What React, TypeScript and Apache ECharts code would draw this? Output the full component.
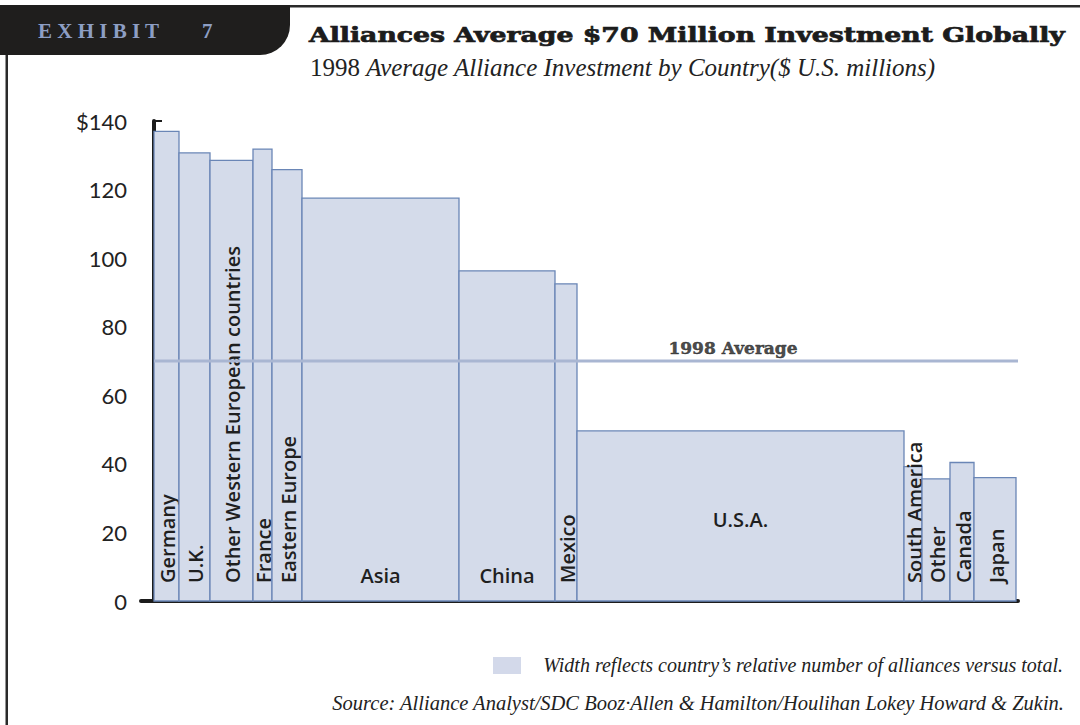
import React, { useEffect, useRef } from "react";
import * as echarts from "echarts";

const categories = [
  "Germany",
  "U.K.",
  "Other Western European countries",
  "France",
  "Eastern Europe",
  "Asia",
  "China",
  "Mexico",
  "U.S.A.",
  "South America",
  "Other",
  "Canada",
  "Japan",
];
// average alliance investment, $ U.S. millions
const investment = [137, 130.7, 128.5, 131.8, 125.8, 117.5, 96.3, 92.5, 49.6, 39.2, 35.6, 40.4, 36.0];
// relative number of alliances (bar width)
const allianceCount = [25, 31, 43, 19, 30, 157, 96, 22, 327, 18, 28, 24, 42];
const average1998 = 70;
const yTicks = [0, 20, 40, 60, 80, 100, 120, 140];

const TITLE = "Alliances Average $70 Million Investment Globally";
const SUBTITLE_YEAR = "1998";
const SUBTITLE_REST = "Average Alliance Investment by Country($ U.S. millions)";
const NOTE = "Width reflects country\u2019s relative number of alliances versus total.";
const SOURCE = "Source: Alliance Analyst/SDC Booz\u00B7Allen & Hamilton/Houlihan Lokey Howard & Zukin.";

function measure(text: string, font: string): number {
  const c = document.createElement("canvas").getContext("2d");
  if (!c) return 0;
  c.font = font;
  return c.measureText(text).width;
}

export default function App() {
  const ref = useRef<HTMLDivElement>(null);

  useEffect(() => {
    if (!ref.current) return;
    const chart = echarts.init(ref.current, null, { renderer: "svg" });

    let acc = 0;
    const barData = categories.map((c, i) => {
      const start = acc;
      acc += allianceCount[i];
      return [start, investment[i], allianceCount[i], i];
    });
    const total = acc;

    const labelFont = '600 20px "Open Sans", "Noto Sans", sans-serif';
    const titleFont = "bold 20px 'DejaVu Serif', serif";
    const tw = measure(TITLE, titleFont);
    const titleScale = tw > 0 ? 756 / tw : 1.2;

    const option: any = {
      animation: false,
      backgroundColor: "#ffffff",
      grid: { left: 141, top: 121, width: 877, height: 480 },
      xAxis: {
        type: "value",
        min: -13,
        max: total + 2,
        axisLine: { show: true, onZero: false, lineStyle: { color: "#1c1c1c", width: 4 } },
        axisTick: { show: false },
        axisLabel: { show: false },
        splitLine: { show: false },
      },
      yAxis: {
        type: "value",
        min: yTicks[0],
        max: yTicks[yTicks.length - 1],
        interval: 20,
        axisLine: { show: true, lineStyle: { color: "#1c1c1c", width: 4 } },
        axisTick: { show: true, inside: true, length: 8, lineStyle: { color: "#1c1c1c", width: 2 } },
        axisLabel: {
          margin: 14,
          color: "#222222",
          fontFamily: "Lato, 'Open Sans', sans-serif",
          fontSize: 22,
          formatter: (v: number) => (v === 140 ? "$" + v : String(v)),
        },
        splitLine: { show: false },
      },
      series: [
        {
          type: "custom",
          data: barData,
          encode: { x: 0, y: 1 },
          z: 2,
          renderItem: (params: any, api: any) => {
            const start = api.value(0);
            const v = api.value(1);
            const w = api.value(2);
            const idx = api.value(3);
            const p0 = api.coord([start, v]);
            const p1 = api.coord([start + w, 0]);
            const x = p0[0];
            const y = p0[1];
            const width = p1[0] - p0[0];
            const height = p1[1] - p0[1];
            const cx = x + width / 2;
            const name = categories[idx];
            const children: any[] = [
              {
                type: "rect",
                shape: { x, y, width, height },
                style: { fill: "#d4dbea", stroke: "#6a86b6", lineWidth: 1.3 },
              },
            ];
            if (width < 60) {
              children.push({
                type: "text",
                x: cx + 1,
                y: p1[1] - 18,
                rotation: Math.PI / 2,
                style: {
                  text: name,
                  fill: "#1f1f1f",
                  font: labelFont,
                  align: "left",
                  verticalAlign: "middle",
                },
              });
            } else {
              const ly = v < 60 ? (y + p1[1]) / 2 + 4 : p1[1] - 26;
              children.push({
                type: "text",
                x: cx,
                y: ly,
                style: {
                  text: name,
                  fill: "#1f1f1f",
                  font: labelFont,
                  align: "center",
                  verticalAlign: "middle",
                },
              });
            }
            return { type: "group", children };
          },
        },
        {
          type: "line",
          data: [
            [0, average1998],
            [total + 2, average1998],
          ],
          showSymbol: false,
          symbol: "none",
          lineStyle: { color: "#a9b6d2", width: 3 },
          z: 5,
        },
        {
          type: "scatter",
          data: [[579, average1998]],
          symbolSize: 0,
          z: 6,
          label: {
            show: true,
            position: "top",
            distance: 5,
            formatter: "1998 Average",
            color: "#1c1c1c",
            fontFamily: "'DejaVu Serif', serif",
            fontWeight: "bold",
            fontSize: 17,
            textBorderColor: "#1c1c1c",
            textBorderWidth: 0.5,
          },
        },
      ],
      graphic: [
        // top border line
        { type: "rect", shape: { x: 0, y: 5, width: 1080, height: 2.5 }, style: { fill: "#2a2a2a" } },
        // left border line
        { type: "rect", shape: { x: 5.5, y: 40, width: 2.5, height: 700 }, style: { fill: "#2a2a2a" } },
        // header block
        {
          type: "rect",
          shape: { x: 0, y: 5, width: 290, height: 50, r: [0, 0, 30, 0] },
          style: { fill: "#1f1e1d" },
        },
        {
          type: "text",
          x: 38,
          y: 31,
          style: {
            text: "E X H I B I T",
            fill: "#8d9ec4",
            font: "bold 21px 'Liberation Serif', 'DejaVu Serif', serif",
            verticalAlign: "middle",
          },
        },
        {
          type: "text",
          x: 202,
          y: 31,
          style: {
            text: "7",
            fill: "#8d9ec4",
            font: "bold 21px 'Liberation Serif', 'DejaVu Serif', serif",
            verticalAlign: "middle",
          },
        },
        {
          type: "text",
          x: 309,
          y: 35,
          scaleX: titleScale,
          style: {
            text: TITLE,
            fill: "#1c1c1c",
            stroke: "#1c1c1c",
            lineWidth: 0.7,
            font: titleFont,
            verticalAlign: "middle",
          },
        },
        {
          type: "text",
          x: 310,
          y: 67,
          style: {
            text: "{a|" + SUBTITLE_YEAR + " }{b|" + SUBTITLE_REST + "}",
            verticalAlign: "middle",
            rich: {
              a: { fontFamily: "'Liberation Serif', serif", fontSize: 25, fill: "#222222", color: "#222222" },
              b: {
                fontFamily: "'Liberation Serif', serif",
                fontStyle: "italic",
                fontSize: 25,
                fill: "#222222",
                color: "#222222",
              },
            },
          },
        },
        // legend swatch
        { type: "rect", shape: { x: 493, y: 657, width: 28, height: 17 }, style: { fill: "#d3d9ea" } },
        {
          type: "text",
          x: 1063,
          y: 665,
          style: {
            text: NOTE,
            fill: "#222222",
            font: "italic 20px 'Liberation Serif', serif",
            align: "right",
            verticalAlign: "middle",
          },
        },
        {
          type: "text",
          x: 1064,
          y: 703,
          style: {
            text: SOURCE,
            fill: "#222222",
            font: "italic 20.5px 'Liberation Serif', serif",
            align: "right",
            verticalAlign: "middle",
          },
        },
      ],
    };

    chart.setOption(option);
    return () => chart.dispose();
  }, []);

  return (
    <div
      ref={ref}
      style={{ position: "fixed", left: 0, top: 0, width: 1080, height: 725, background: "#fff" }}
    />
  );
}
